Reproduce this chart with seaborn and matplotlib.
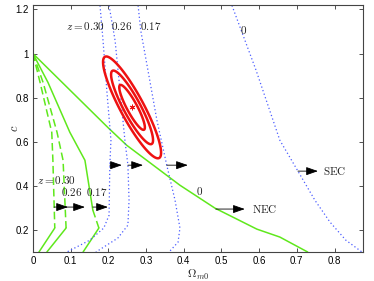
import matplotlib
matplotlib.use('Agg')

import numpy as np
import matplotlib.pyplot as plt
import seaborn as sns

# --- data ------------------------------------------------------------------
# green: null energy condition boundaries
nec0_x = [0.0, 0.200, 0.249, 0.390, 0.483, 0.594, 0.655, 0.729]
nec0_y = [1.0, 0.663, 0.584, 0.403, 0.299, 0.204, 0.168, 0.100]

nec_z = ['0.30', '0.26', '0.17']
nec_upper_x = [[0.0, 0.019, 0.050, 0.053, 0.058],
               [0.0, 0.027, 0.064, 0.080, 0.088],
               [0.0, 0.040, 0.098, 0.138, 0.159]]
nec_upper_y = [[1.0, 0.869, 0.643, 0.516, 0.209],
               [1.0, 0.869, 0.643, 0.516, 0.209],
               [1.0, 0.869, 0.643, 0.516, 0.290]]
nec_dash3_x = [0.159, 0.175]
nec_dash3_y = [0.290, 0.209]
nec_lower_x = [[0.058, 0.016], [0.088, 0.037], [0.175, 0.133]]
nec_lower_y = [[0.209, 0.100], [0.209, 0.100], [0.209, 0.100]]

# blue: strong energy condition boundaries
sec_x = [[0.178, 0.186, 0.196, 0.207, 0.204, 0.202, 0.188, 0.151, 0.090],
         [0.202, 0.218, 0.231, 0.244, 0.252, 0.255, 0.252, 0.225, 0.167],
         [0.279, 0.286, 0.310, 0.329, 0.355, 0.377, 0.390, 0.385, 0.361],
         [0.528, 0.592, 0.655, 0.703, 0.748, 0.788, 0.830, 0.873]]
sec_y = [[1.218, 1.059, 0.833, 0.607, 0.494, 0.267, 0.209, 0.154, 0.100],
         [1.218, 1.059, 0.833, 0.607, 0.494, 0.335, 0.222, 0.163, 0.100],
         [1.218, 1.105, 0.878, 0.697, 0.494, 0.335, 0.209, 0.145, 0.100],
         [1.218, 0.924, 0.607, 0.467, 0.335, 0.236, 0.154, 0.100]]

# best fit and covariance of (Omega_m0, c)
best_fit = (0.263, 0.756)
sigma_om, sigma_c, rho = 0.0224, 0.0672, -0.89
chi2_levels = [2.30, 6.17, 11.8]

# arrows (start x, end x, y)
arrow_x0 = [0.056, 0.085, 0.159, 0.204, 0.252, 0.355, 0.485, 0.703]
arrow_x1 = [0.093, 0.138, 0.199, 0.236, 0.292, 0.411, 0.562, 0.756]
arrow_y = [0.304, 0.304, 0.304, 0.494, 0.494, 0.494, 0.295, 0.467]

xticks = [0, 0.1, 0.2, 0.3, 0.4, 0.5, 0.6, 0.7, 0.8]
yticks = [0.2, 0.4, 0.6, 0.8, 1.0, 1.2]
ytick_labels = ['0.2', '0.4', '0.6', '0.8', '1', '1.2']

GREEN = '#5fe81c'
BLUE = '#4a5cff'
RED = '#ee1111'

sns.set_style('ticks')
plt.rcParams['font.family'] = ['Liberation Sans', 'DejaVu Sans']
plt.rcParams['mathtext.fontset'] = 'cm'

fig = plt.figure(figsize=(3.74, 2.81), dpi=100)
ax = fig.add_axes([0.088, 0.103, 0.882, 0.879])

# NEC lines
sns.lineplot(x=nec0_x, y=nec0_y, sort=False, estimator=None, color=GREEN, lw=1.1, ax=ax)
for i in range(3):
    ls = (0, (5, 2.5)) if i < 2 else '-'
    sns.lineplot(x=nec_upper_x[i], y=nec_upper_y[i], sort=False, estimator=None,
                 color=GREEN, lw=1.1, linestyle=ls, ax=ax)
    sns.lineplot(x=nec_lower_x[i], y=nec_lower_y[i], sort=False, estimator=None,
                 color=GREEN, lw=1.1, ax=ax)
sns.lineplot(x=nec_dash3_x, y=nec_dash3_y, sort=False, estimator=None,
             color=GREEN, lw=1.1, linestyle=(0, (5, 2.5)), ax=ax)

# SEC lines
for sx, sy in zip(sec_x, sec_y):
    sns.lineplot(x=sx, y=sy, sort=False, estimator=None, color=BLUE, lw=0.9,
                 linestyle=(0, (1, 2)), ax=ax)

# confidence contours
cov = np.array([[sigma_om ** 2, rho * sigma_om * sigma_c],
                [rho * sigma_om * sigma_c, sigma_c ** 2]])
icov = np.linalg.inv(cov)
gx, gy = np.meshgrid(np.linspace(0.12, 0.40, 400), np.linspace(0.40, 1.10, 400))
dx, dy = gx - best_fit[0], gy - best_fit[1]
chi2 = icov[0, 0] * dx ** 2 + 2 * icov[0, 1] * dx * dy + icov[1, 1] * dy ** 2
ax.contour(gx, gy, chi2, levels=chi2_levels, colors=RED, linewidths=1.8)
ax.plot(*best_fit, marker=(6, 2, 0), color=RED, ms=4, mew=0.7)

# arrows
for x0, x1, y in zip(arrow_x0, arrow_x1, arrow_y):
    ax.annotate('', xy=(x1, y), xytext=(x0, y),
                arrowprops=dict(arrowstyle='-|>,head_length=0.8,head_width=0.28',
                                color='k', lw=0.6, mutation_scale=9, shrinkA=0, shrinkB=0))

# labels
tkw = dict(fontsize=8, color='#222222')
ax.text(0.011, 0.428, r'$z=0.30$', ha='left', va='center', **tkw)
ax.text(0.103, 0.372, r'$0.26$', ha='center', va='center', **tkw)
ax.text(0.170, 0.372, r'$0.17$', ha='center', va='center', **tkw)
ax.text(0.0875, 1.123, r'$z=0.30$', ha='left', va='center', **tkw)
ax.text(0.236, 1.123, r'$0.26$', ha='center', va='center', **tkw)
ax.text(0.313, 1.123, r'$0.17$', ha='center', va='center', **tkw)
ax.text(0.560, 1.109, r'$0$', ha='center', va='center', **tkw)
ax.text(0.443, 0.376, r'$0$', ha='center', va='center', **tkw)
ax.text(0.581, 0.295, r'$\mathrm{NEC}$', ha='left', va='center', **tkw)
ax.text(0.769, 0.467, r'$\mathrm{SEC}$', ha='left', va='center', **tkw)

ax.set_xlim(0, 0.875)
ax.set_ylim(0.1, 1.22)
ax.set_xticks(xticks)
ax.set_xticklabels([f'{t:g}' for t in xticks])
ax.set_yticks(yticks)
ax.set_yticklabels(ytick_labels)
ax.tick_params(direction='in', length=3, width=0.6, labelsize=7,
               top=True, right=True, colors='#333333', labelcolor='black', pad=3)
for sp in ax.spines.values():
    sp.set_linewidth(0.8)
    sp.set_color('#444444')
ax.set_xlabel(r'$\Omega_{m0}$', fontsize=8.5, labelpad=1)
ax.set_ylabel(r'$c$', fontsize=9)
ax.yaxis.set_label_coords(-0.035, 0.5)

fig.savefig('out.png', dpi=100)
